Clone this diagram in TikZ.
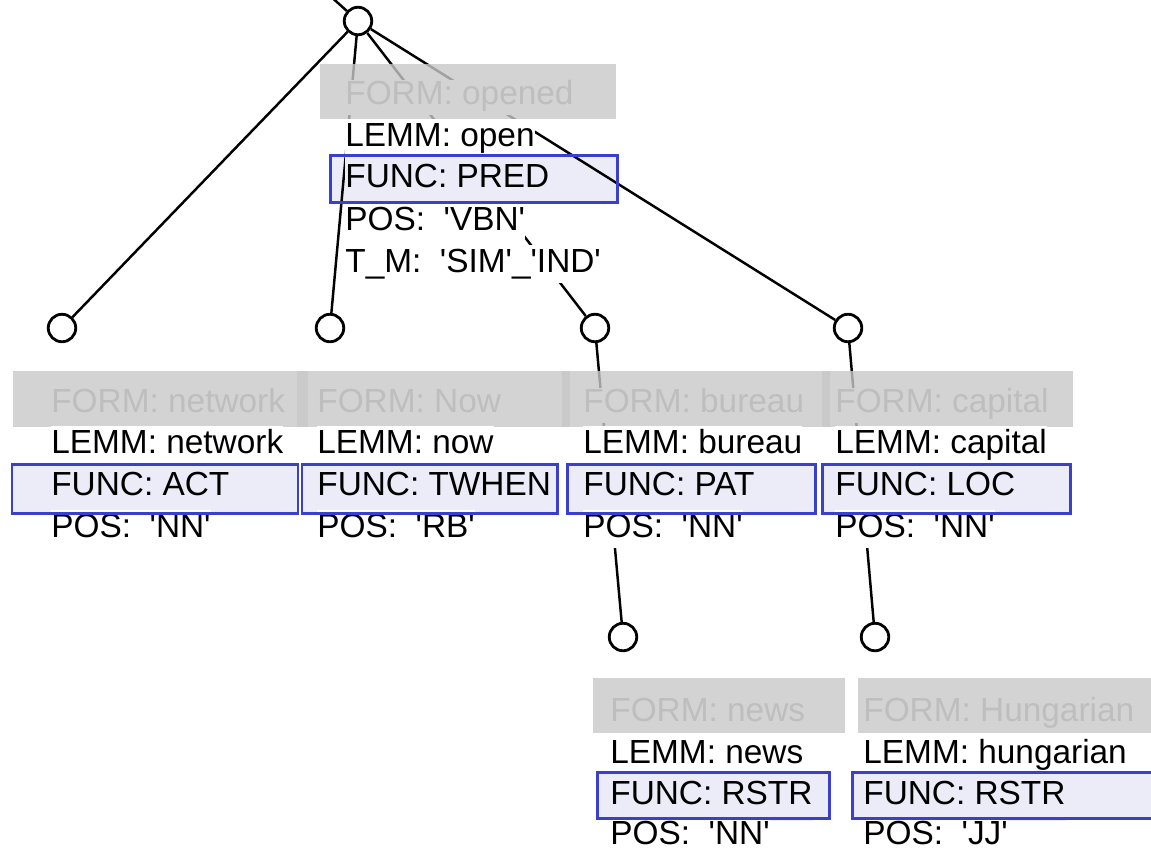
\documentclass[tikz,border=0pt]{standalone}
\usepackage{fontspec}
\setmainfont{Liberation Sans}
\usepackage{tikz}
\definecolor{funcfill}{RGB}{236,236,248}
\definecolor{funcline}{RGB}{58,64,204}
\definecolor{formfill}{RGB}{200,200,200}
\definecolor{formbg}{RGB}{211,211,211}
\definecolor{formtext}{RGB}{190,190,190}
\newcommand{\tq}{\textquotesingle}
\tikzset{
  tnode/.style={circle, draw=black, fill=white, line width=1.6pt, minimum size=0.55cm, inner sep=0pt},
  edge/.style={black, line width=1.4pt},
  formbox/.style={fill=formfill, fill opacity=0.8},
  funcframe/.style={draw=funcline, line width=1.7pt},
  row/.style={anchor=base west, inner sep=0pt, text height=0.54cm, text depth=0.22cm},
  formrow/.style={row, text height=0.48cm, fill=formbg, text=formtext},
  lemrow/.style={row, fill=white},
  funcrow/.style={row, text height=0.62cm, text depth=0.34cm, fill=funcfill},
}

\begin{document}
\begin{tikzpicture}[x=0.02cm, y=-0.02cm, font=\fontsize{19}{23}\selectfont]
                \useasboundingbox (0, 0) rectangle (1151, 849);

                % FUNC boxes, fill
                \fill[funcfill] (330, 155) rectangle (617, 202);
                \fill[funcfill] (12, 464) rectangle (298, 513);
                \fill[funcfill] (302, 464) rectangle (557, 513);
                \fill[funcfill] (567, 464) rectangle (815, 513);
                \fill[funcfill] (822, 464) rectangle (1070, 513);
                \fill[funcfill] (597, 772) rectangle (829, 818);
                \fill[funcfill] (852, 772) rectangle (1180, 818);

                \node[tnode] (opened)    at (358, 21) {};
                \node[tnode] (network)   at (62, 328) {};
                \node[tnode] (now)       at (330, 328) {};
                \node[tnode] (bureau)    at (595, 328) {};
                \node[tnode] (capital)   at (848, 328) {};
                \node[tnode] (news)      at (623, 637) {};
                \node[tnode] (hungarian) at (875, 637) {};
                \coordinate (up) at (328, -6);

                \draw[edge] (opened) -- (up);
                \draw[edge] (opened) -- (network);
                \draw[edge] (opened) -- (now);
                \draw[edge] (opened) -- (bureau);
                \draw[edge] (opened) -- (capital);
                \draw[edge] (bureau) -- (news);
                \draw[edge] (capital) -- (hungarian);

                % FORM boxes
                \fill[formbox] (320, 64) rectangle (616, 119);
                \fill[formbox] (13, 371) rectangle (308, 427);
                \fill[formbox] (297, 371) rectangle (570, 427);
                \fill[formbox] (562, 371) rectangle (830, 427);
                \fill[formbox] (822, 371) rectangle (1073, 427);
                \fill[formbox] (593, 678) rectangle (845, 733);
                \fill[formbox] (858, 678) rectangle (1180, 733);

                \node[formrow] (opened-form) at (345, 104) {FORM: opened};
                \node[lemrow]  (opened-lemm) at (345, 146) {LEMM: open};
                \node[funcrow] (opened-func) at (345, 187) {FUNC: PRED};
                \node[lemrow]  (opened-pos)  at (345, 230) {POS:\ \ \tq VBN\tq};
                \node[lemrow]  (opened-tm)   at (345, 272) {T\_M:\ \ \tq{}SIM\tq\_\tq{}IND\tq};

                \node[formrow] (network-form) at (51, 412) {FORM: network};
                \node[lemrow]  (network-lemm) at (51, 453) {LEMM: network};
                \node[funcrow] (network-func) at (51, 495) {FUNC: ACT};
                \node[lemrow]  (network-pos)  at (51, 537) {POS:\ \ \tq NN\tq};

                \node[formrow] (now-form) at (317, 412) {FORM: Now};
                \node[lemrow]  (now-lemm) at (317, 453) {LEMM: now};
                \node[funcrow] (now-func) at (317, 495) {FUNC: TWHEN};
                \node[lemrow]  (now-pos)  at (317, 537) {POS:\ \ \tq RB\tq};

                \node[formrow] (bureau-form) at (583, 412) {FORM: bureau};
                \node[lemrow]  (bureau-lemm) at (583, 453) {LEMM: bureau};
                \node[funcrow] (bureau-func) at (583, 495) {FUNC: PAT};
                \node[lemrow]  (bureau-pos)  at (583, 537) {POS:\ \ \tq NN\tq};

                \node[formrow] (capital-form) at (835, 412) {FORM: capital};
                \node[lemrow]  (capital-lemm) at (835, 453) {LEMM: capital};
                \node[funcrow] (capital-func) at (835, 495) {FUNC: LOC};
                \node[lemrow]  (capital-pos)  at (835, 537) {POS:\ \ \tq NN\tq};

                \node[formrow] (news-form) at (610, 721) {FORM: news};
                \node[lemrow]  (news-lemm) at (610, 763) {LEMM: news};
                \node[funcrow] (news-func) at (610, 804) {FUNC: RSTR};
                \node[lemrow, text depth=0pt] (news-pos) at (610, 844) {POS:\ \ \tq NN\tq};

                \node[formrow] (hungarian-form) at (863, 721) {FORM: Hungarian};
                \node[lemrow]  (hungarian-lemm) at (863, 763) {LEMM: hungarian};
                \node[funcrow] (hungarian-func) at (863, 804) {FUNC: RSTR};
                \node[lemrow, text depth=0pt] (hungarian-pos) at (863, 844) {POS:\ \ \tq JJ\tq};

                % FUNC boxes, frame
                \draw[funcframe] (330, 155) rectangle (617, 202);
                \draw[funcframe] (12, 464) rectangle (298, 513);
                \draw[funcframe] (302, 464) rectangle (557, 513);
                \draw[funcframe] (567, 464) rectangle (815, 513);
                \draw[funcframe] (822, 464) rectangle (1070, 513);
                \draw[funcframe] (597, 772) rectangle (829, 818);
                \draw[funcframe] (852, 772) rectangle (1180, 818);
            \end{tikzpicture}
\end{document}
